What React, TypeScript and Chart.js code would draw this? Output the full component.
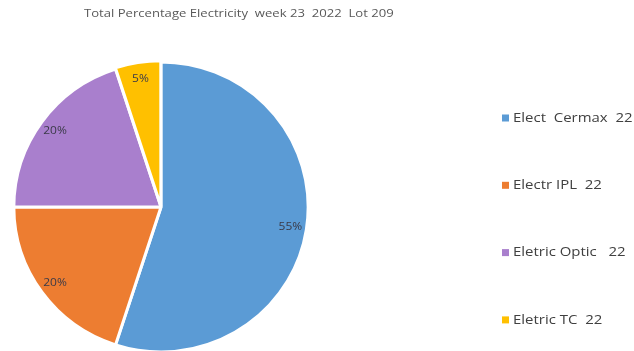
import { useEffect, useRef } from "react";
import { Chart, registerables } from "chart.js";

Chart.register(...registerables);

const chartTitle = "Total Percentage Electricity  week 23  2022  Lot 209";
const categories = ["Elect  Cermax  22", "Electr IPL  22", "Eletric Optic   22", "Eletric TC  22"];
const values = [55, 20, 20, 5];
const colors = ["#5B9BD5", "#ED7D31", "#A97FCD", "#FFC000"];
const offsets = [0, 0, 0, 3];

const FONT = "'Open Sans', 'Liberation Sans', sans-serif";
const PIE_SX = 1.015;

function wideText(ctx: CanvasRenderingContext2D, text: string, x: number, y: number, sx: number) {
  ctx.save();
  ctx.translate(x, y);
  ctx.scale(sx, 1);
  ctx.fillText(text, 0, 0);
  ctx.restore();
}

const stretchPlugin = {
  id: "stretchPlugin",
  beforeDatasetsDraw(chart: any) {
    const ctx = chart.ctx as CanvasRenderingContext2D;
    const a = chart.chartArea;
    const cx = (a.left + a.right) / 2;
    ctx.save();
    ctx.translate(cx, 0);
    ctx.scale(PIE_SX, 1);
    ctx.translate(-cx, 0);
  },
  afterDatasetsDraw(chart: any) {
    chart.ctx.restore();
  },
};

const textPlugin = {
  id: "textPlugin",
  afterDatasetsDraw(chart: any) {
    const ctx = chart.ctx as CanvasRenderingContext2D;
    const meta = chart.getDatasetMeta(0);
    const total = values.reduce((a, b) => a + b, 0);
    ctx.save();
    ctx.textAlign = "center";
    ctx.textBaseline = "middle";
    ctx.font = `10px ${FONT}`;
    ctx.fillStyle = "#3a3a48";
    meta.data.forEach((arc: any, i: number) => {
      const p = arc.getProps(["x", "y", "startAngle", "endAngle", "outerRadius"], true);
      const mid = (p.startAngle + p.endAngle) / 2;
      const r = p.outerRadius * 0.89;
      const label = Math.round((values[i] / total) * 100) + "%";
      wideText(ctx, label, p.x + Math.cos(mid) * r * PIE_SX, p.y + Math.sin(mid) * r, 1.2);
    });

    // title
    ctx.font = `11px ${FONT}`;
    ctx.fillStyle = "#595959";
    ctx.textAlign = "left";
    wideText(ctx, chartTitle, 84, 14, 1.19);

    // legend
    const legendTop = 118;
    const legendStep = 67.3;
    ctx.font = `13px ${FONT}`;
    categories.forEach((c, i) => {
      const y = legendTop + i * legendStep;
      ctx.fillStyle = colors[i];
      ctx.fillRect(502, y - 3.5, 7, 7);
      ctx.fillStyle = "#404040";
      wideText(ctx, c, 513, y, 1.15);
    });
    ctx.restore();
  },
};

export default function App() {
  const ref = useRef<HTMLCanvasElement>(null);
  useEffect(() => {
    if (!ref.current) return;
    const chart = new Chart(ref.current, {
      type: "pie",
      data: {
        labels: categories,
        datasets: [
          {
            data: values,
            backgroundColor: colors,
            borderColor: "#ffffff",
            borderWidth: 3,
            offset: offsets,
            hoverOffset: 0,
            clip: false,
          } as any,
        ],
      },
      options: {
        responsive: false,
        animation: false,
        events: [],
        radius: 145,
        layout: { padding: { left: 0, right: 312, top: 63, bottom: 0 } },
        plugins: {
          legend: { display: false },
          title: { display: false },
          tooltip: { enabled: false },
        },
      } as any,
      plugins: [stretchPlugin, textPlugin],
    });
    return () => chart.destroy();
  }, []);
  return (
    <div style={{ position: "absolute", left: 0, top: 0, width: 634, height: 351, background: "#fff" }}>
      <canvas ref={ref} width={634} height={351} style={{ display: "block" }} />
    </div>
  );
}
